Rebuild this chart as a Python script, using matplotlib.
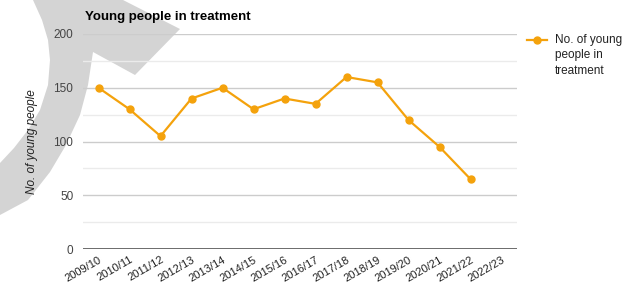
import numpy as np
import matplotlib.pyplot as plt
from matplotlib.patches import Polygon
from matplotlib.lines import Line2D

plt.rcParams['font.family'] = ['Liberation Sans', 'DejaVu Sans']

years = ["2009/10", "2010/11", "2011/12", "2012/13", "2013/14", "2014/15", "2015/16",
         "2016/17", "2017/18", "2018/19", "2019/20", "2020/21", "2021/22", "2022/23"]
people = [150, 130, 105, 140, 150, 130, 140, 135, 160, 155, 120, 95, 65, np.nan]
series_name = "No. of young\npeople in\ntreatment"

W, H = 631, 288
fig = plt.figure(figsize=(W / 100, H / 100), dpi=100)

# grey arrow shape behind the chart (pixel coords, y from top)
arrow_px = [(33, 0), (42, 20), (48, 40), (50, 60), (48, 85), (40, 110), (28, 130), (14, 148),
            (0, 163), (0, 215), (28, 200), (50, 172), (66, 145), (80, 115), (88, 85), (93, 52),
            (135, 75), (180, 29), (123, 0)]
arrow = Polygon([(x / W, 1 - y / H) for x, y in arrow_px], closed=True,
                transform=fig.transFigure, facecolor="#d4d4d4", edgecolor="none", zorder=-5)
fig.patches.append(arrow)

ax = fig.add_axes([83 / W, 1 - 249 / H, (517 - 83) / W, (249 - 34) / H])
ax.set_facecolor("none")

x = np.arange(len(years))
ax.plot(x, people, color="#f4a20c", lw=1.6, marker="o", ms=5, zorder=3)

ax.set_xlim(-0.5, len(years) - 0.5)
ax.set_ylim(0, 200)
ax.set_yticks([0, 50, 100, 150, 200])
ax.set_yticks([25, 75, 125, 175], minor=True)
ax.grid(axis="y", which="major", color="#cccccc", lw=1)
ax.grid(axis="y", which="minor", color="#ebebeb", lw=1)
ax.axhline(0, color="#555555", lw=1.2, zorder=2)
for s in ax.spines.values():
    s.set_visible(False)
ax.tick_params(axis="both", which="both", length=0)
ax.tick_params(axis="y", pad=7, labelsize=8.5, labelcolor="#444444")
ax.set_xticks(x)
ax.set_xticklabels(years, rotation=30, ha="right", rotation_mode="anchor",
                   fontsize=8, color="#222222")
ax.tick_params(axis="x", pad=4)

ax.set_ylabel("No. of young people", style="italic", fontsize=8.5, color="#222222", labelpad=11)
fig.text(85 / W, 1 - 17 / H, "Young people in treatment", fontsize=9.5, fontweight="bold",
         color="#000000", va="center", ha="left")

# legend
fig.add_artist(Line2D([527 / W, 547 / W], [1 - 40 / H, 1 - 40 / H], transform=fig.transFigure,
                      color="#f4a20c", lw=1.6))
fig.add_artist(Line2D([537 / W], [1 - 40 / H], transform=fig.transFigure,
                      color="#f4a20c", marker="o", ms=5, lw=0))
fig.text(555 / W, 1 - 34 / H, series_name, fontsize=8.5, color="#222222",
         va="top", ha="left", linespacing=1.38)

fig.savefig("out.png", dpi=100)
